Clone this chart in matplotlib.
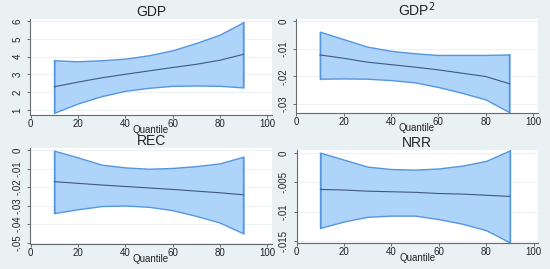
import matplotlib
matplotlib.use("Agg")
import matplotlib.pyplot as plt
from matplotlib.ticker import FuncFormatter

quantiles = [10, 20, 30, 40, 50, 60, 70, 80, 90]

gdp_coef = [2.31, 2.57, 2.81, 3.01, 3.20, 3.39, 3.57, 3.80, 4.13]
gdp_upper = [3.80, 3.74, 3.80, 3.89, 4.08, 4.36, 4.77, 5.24, 5.94]
gdp_lower = [0.85, 1.37, 1.78, 2.08, 2.25, 2.36, 2.38, 2.36, 2.27]

gdp2_coef = [-0.0123, -0.0135, -0.0149, -0.0158, -0.0167, -0.0177, -0.0189, -0.0201, -0.0227]
gdp2_upper = [-0.0039, -0.0066, -0.0093, -0.0108, -0.0117, -0.0123, -0.0123, -0.0123, -0.0121]
gdp2_lower = [-0.0209, -0.0208, -0.0209, -0.0214, -0.0222, -0.0239, -0.0260, -0.0284, -0.0330]

rec_coef = [-0.0171, -0.0180, -0.0189, -0.0197, -0.0205, -0.0213, -0.0222, -0.0231, -0.0242]
rec_upper = [-0.0004, -0.0040, -0.0079, -0.0094, -0.0101, -0.0097, -0.0087, -0.0072, -0.0036]
rec_lower = [-0.0341, -0.0320, -0.0303, -0.0300, -0.0307, -0.0325, -0.0356, -0.0392, -0.0451]

nrr_coef = [-0.0062, -0.0063, -0.0065, -0.0066, -0.0067, -0.0069, -0.0070, -0.0072, -0.0074]
nrr_upper = [0.0001, -0.0011, -0.0023, -0.0027, -0.0028, -0.0026, -0.0021, -0.0013, 0.0005]
nrr_lower = [-0.0128, -0.0117, -0.0109, -0.0107, -0.0107, -0.0113, -0.0121, -0.0132, -0.0153]

titles = ["GDP", "GDP$^2$", "REC", "NRR"]
x_ticks = [0, 20, 40, 60, 80, 100]
gdp_ticks = [1, 2, 3, 4, 5, 6]
gdp2_ticks = [0, -0.01, -0.02, -0.03]
rec_ticks = [0, -0.01, -0.02, -0.03, -0.04, -0.05]
nrr_ticks = [0, -0.005, -0.01, -0.015]
x_label = "Quantile"

plt.rcParams['font.family'] = ['Liberation Sans', 'DejaVu Sans']

W, H = 550, 269
bg = (234/255, 241/255, 243/255)
fig = plt.figure(figsize=(W/100, H/100), dpi=100)
fig.patch.set_facecolor(bg)

def stata_fmt(v, pos):
    if abs(v) < 1e-12:
        return "0"
    s = ("%g" % v)
    s = s.replace("-0.", "-.").replace("0.", ".")
    return s

panels = [
    dict(box=(30, 272, 19, 115), xlim=(-0.3, 102.1), ylim=(0.72, 6.12),
         c=gdp_coef, u=gdp_upper, l=gdp_lower, ticks=gdp_ticks, title=titles[0]),
    dict(box=(296, 538, 19, 113), xlim=(-0.1, 102.1), ylim=(-0.0333, 0.0007),
         c=gdp2_coef, u=gdp2_upper, l=gdp2_lower, ticks=gdp2_ticks, title=titles[1]),
    dict(box=(30, 272, 148, 244), xlim=(-0.3, 102.1), ylim=(-0.0508, 0.0011),
         c=rec_coef, u=rec_upper, l=rec_lower, ticks=rec_ticks, title=titles[2]),
    dict(box=(296.5, 538, 150, 243), xlim=(-0.1, 101.9), ylim=(-0.0154, 0.00057),
         c=nrr_coef, u=nrr_upper, l=nrr_lower, ticks=nrr_ticks, title=titles[3]),
]

fill_c = (174/255, 212/255, 250/255)
edge_c = (85/255, 150/255, 225/255)
line_c = (65/255, 88/255, 122/255)
axis_c = (105/255, 105/255, 112/255)
text_c = (35/255, 35/255, 40/255)

for p in panels:
    l, r, t, b = p["box"]
    ax = fig.add_axes([l/W, 1 - b/H, (r-l)/W, (b-t)/H])
    ax.set_facecolor("white")
    ax.set_xlim(*p["xlim"])
    ax.set_ylim(*p["ylim"])
    ax.fill_between(quantiles, p["l"], p["u"], facecolor=fill_c, edgecolor=edge_c,
                    linewidth=1.0, zorder=2)
    ax.plot([quantiles[0], quantiles[0]], [p["l"][0], p["u"][0]], color=edge_c, lw=1.0, zorder=2)
    ax.plot([quantiles[-1], quantiles[-1]], [p["l"][-1], p["u"][-1]], color=edge_c, lw=1.0, zorder=2)
    ax.plot(quantiles, p["c"], color=line_c, lw=0.8, zorder=3)
    ax.set_xticks(x_ticks)
    ax.set_yticks(p["ticks"])
    ax.yaxis.set_major_formatter(FuncFormatter(stata_fmt))
    ax.grid(axis="y", color=(236/255, 241/255, 244/255), lw=0.7, zorder=0)
    ax.set_axisbelow(True)
    for s in ["top", "right"]:
        ax.spines[s].set_visible(False)
    for s in ["left", "bottom"]:
        ax.spines[s].set_color(axis_c)
        ax.spines[s].set_linewidth(0.8)
    ax.tick_params(axis="both", colors=axis_c, labelcolor=text_c, length=2.5, width=0.7,
                   labelsize=7)
    ax.tick_params(axis="x", pad=0.5)
    ax.tick_params(axis="y", pad=3)
    for lab in ax.get_yticklabels():
        lab.set_rotation(90)
        lab.set_va("center")
    ax.set_xlabel(x_label, fontsize=7, color=text_c, labelpad=-3)
    ax.set_title(p["title"], fontsize=10, color=text_c, pad=0.5)

fig.savefig("out.png", dpi=100, facecolor=fig.get_facecolor())
